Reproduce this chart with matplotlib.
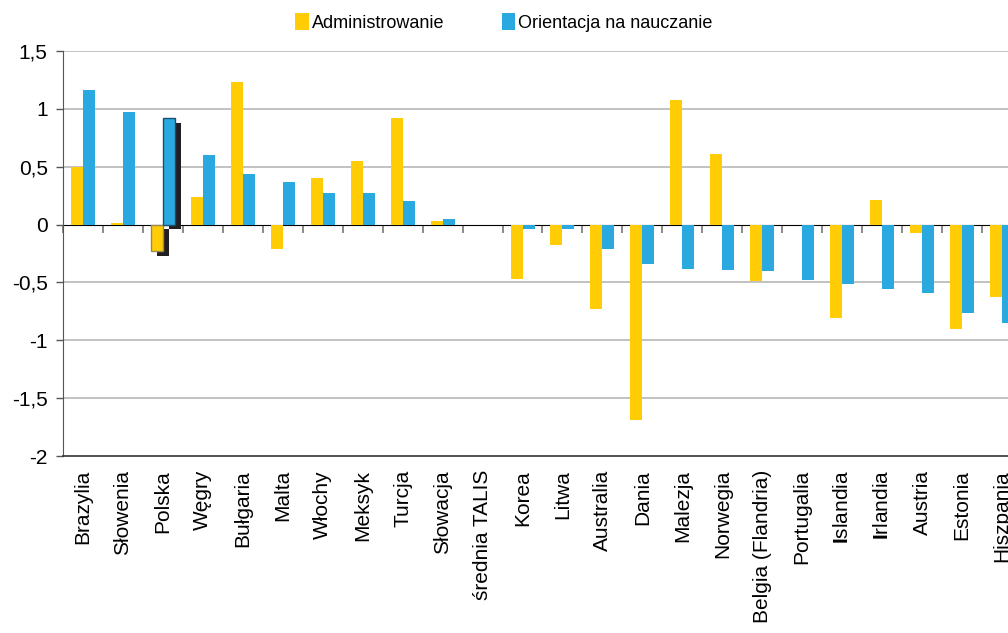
import matplotlib
matplotlib.use("Agg")
import matplotlib.pyplot as plt
import matplotlib.patheffects as pe
import numpy as np

plt.rcParams["font.family"] = ["Liberation Sans", "DejaVu Sans"]
plt.rcParams["mathtext.fontset"] = "custom"
plt.rcParams["mathtext.rm"] = "Liberation Sans"
plt.rcParams["mathtext.bf"] = "Liberation Sans:bold"

# ── Data ──────────────────────────────────────────────────────────────────────
countries = [
    "Brazylia", "Słowenia", "Polska", "Węgry", "Bułgaria", "Malta", "Włochy",
    "Meksyk", "Turcja", "Słowacja", "średnia TALIS", "Korea", "Litwa",
    "Australia", "Dania", "Malezja", "Norwegia", "Belgia (Flandria)",
    "Portugalia", r"$\mathbf{I}$slandia", r"$\mathbf{I}$rlandia", "Austria",
    "Estonia", "Hiszpania",
]
administrowanie = [
    0.50, 0.01, -0.23, 0.24, 1.23, -0.21, 0.40, 0.55, 0.92, 0.03, 0.00,
    -0.47, -0.18, -0.73, -1.69, 1.08, 0.61, -0.49, 0.00, -0.81, 0.21,
    -0.07, -0.90, -0.63,
]
orientacja = [
    1.16, 0.97, 0.92, 0.60, 0.44, 0.37, 0.27, 0.27, 0.20, 0.05, 0.00,
    -0.04, -0.04, -0.21, -0.34, -0.38, -0.39, -0.40, -0.48, -0.51, -0.56,
    -0.59, -0.76, -0.85,
]
yticks = [-2, -1.5, -1, -0.5, 0, 0.5, 1, 1.5]
ytick_labels = ["-2", "-1,5", "-1", "-0,5", "0", "0,5", "1", "1,5"]
highlight = "Polska"

YELLOW = "#ffcc05"
BLUE = "#29a9e0"
SHADOW = "#231f20"

x = np.arange(len(countries))
w = 0.3

fig = plt.figure(figsize=(10.08, 6.33), dpi=100)
ax = fig.add_axes([0.0625, 0.2796, 0.9375, 0.6398])

bars_a = ax.bar(x - w / 2, administrowanie, w, color=YELLOW, label="Administrowanie", zorder=3)
bars_o = ax.bar(x + w / 2, orientacja, w, color=BLUE, label="Orientacja na nauczanie", zorder=3)

# Polska highlighted with outline + drop shadow
hi = countries.index(highlight)
shadow = [pe.SimplePatchShadow(offset=(4.3, -3.2), shadow_rgbFace=SHADOW, alpha=1.0), pe.Normal()]
for b, ec in ((bars_a[hi], "#9a8a50"), (bars_o[hi], "#1d4f6e")):
    b.set_edgecolor(ec)
    b.set_linewidth(1.0)
    b.set_path_effects(shadow)

ax.set_ylim(-2, 1.5)
ax.set_xlim(-0.5, 23.15)
ax.set_yticks(yticks)
ax.set_yticklabels(ytick_labels, fontsize=15)
ax.set_xticks(x)
ax.set_xticklabels(countries, rotation=90, fontsize=15, va="top", ha="center")
ax.tick_params(axis="x", length=0, pad=10)
ax.tick_params(axis="y", length=5, width=1, color="#555555", pad=6, direction="out")

for v in yticks:
    if v not in (0, -2):
        ax.axhline(v, color="#c2c2c2", linewidth=1.4, zorder=1)

for s in ("top", "right"):
    ax.spines[s].set_visible(False)
ax.spines["left"].set_color("#555555")
ax.spines["bottom"].set_color("#333333")
ax.spines["bottom"].set_linewidth(1.2)

# zero axis with category separator ticks (no labels)
zero_frac = (0 - (-2)) / (1.5 - (-2))
sec = ax.secondary_xaxis(zero_frac)
sec.set_xticks(np.arange(-0.5, len(countries), 1.0))
sec.set_xticklabels([])
sec.xaxis.set_ticks_position("bottom")
sec.tick_params(axis="x", direction="out", length=6, width=1.2, color="#777777")
sec.spines["bottom"].set_color("#777777")
sec.spines["bottom"].set_linewidth(1.4)

fig.legend(loc="upper center", bbox_to_anchor=(0.5, 1.005), ncol=2, frameon=False,
           fontsize=13, handlelength=0.75, handleheight=1.1, handletextpad=0.15,
           columnspacing=3.2)

fig.savefig("out.png", dpi=100)
